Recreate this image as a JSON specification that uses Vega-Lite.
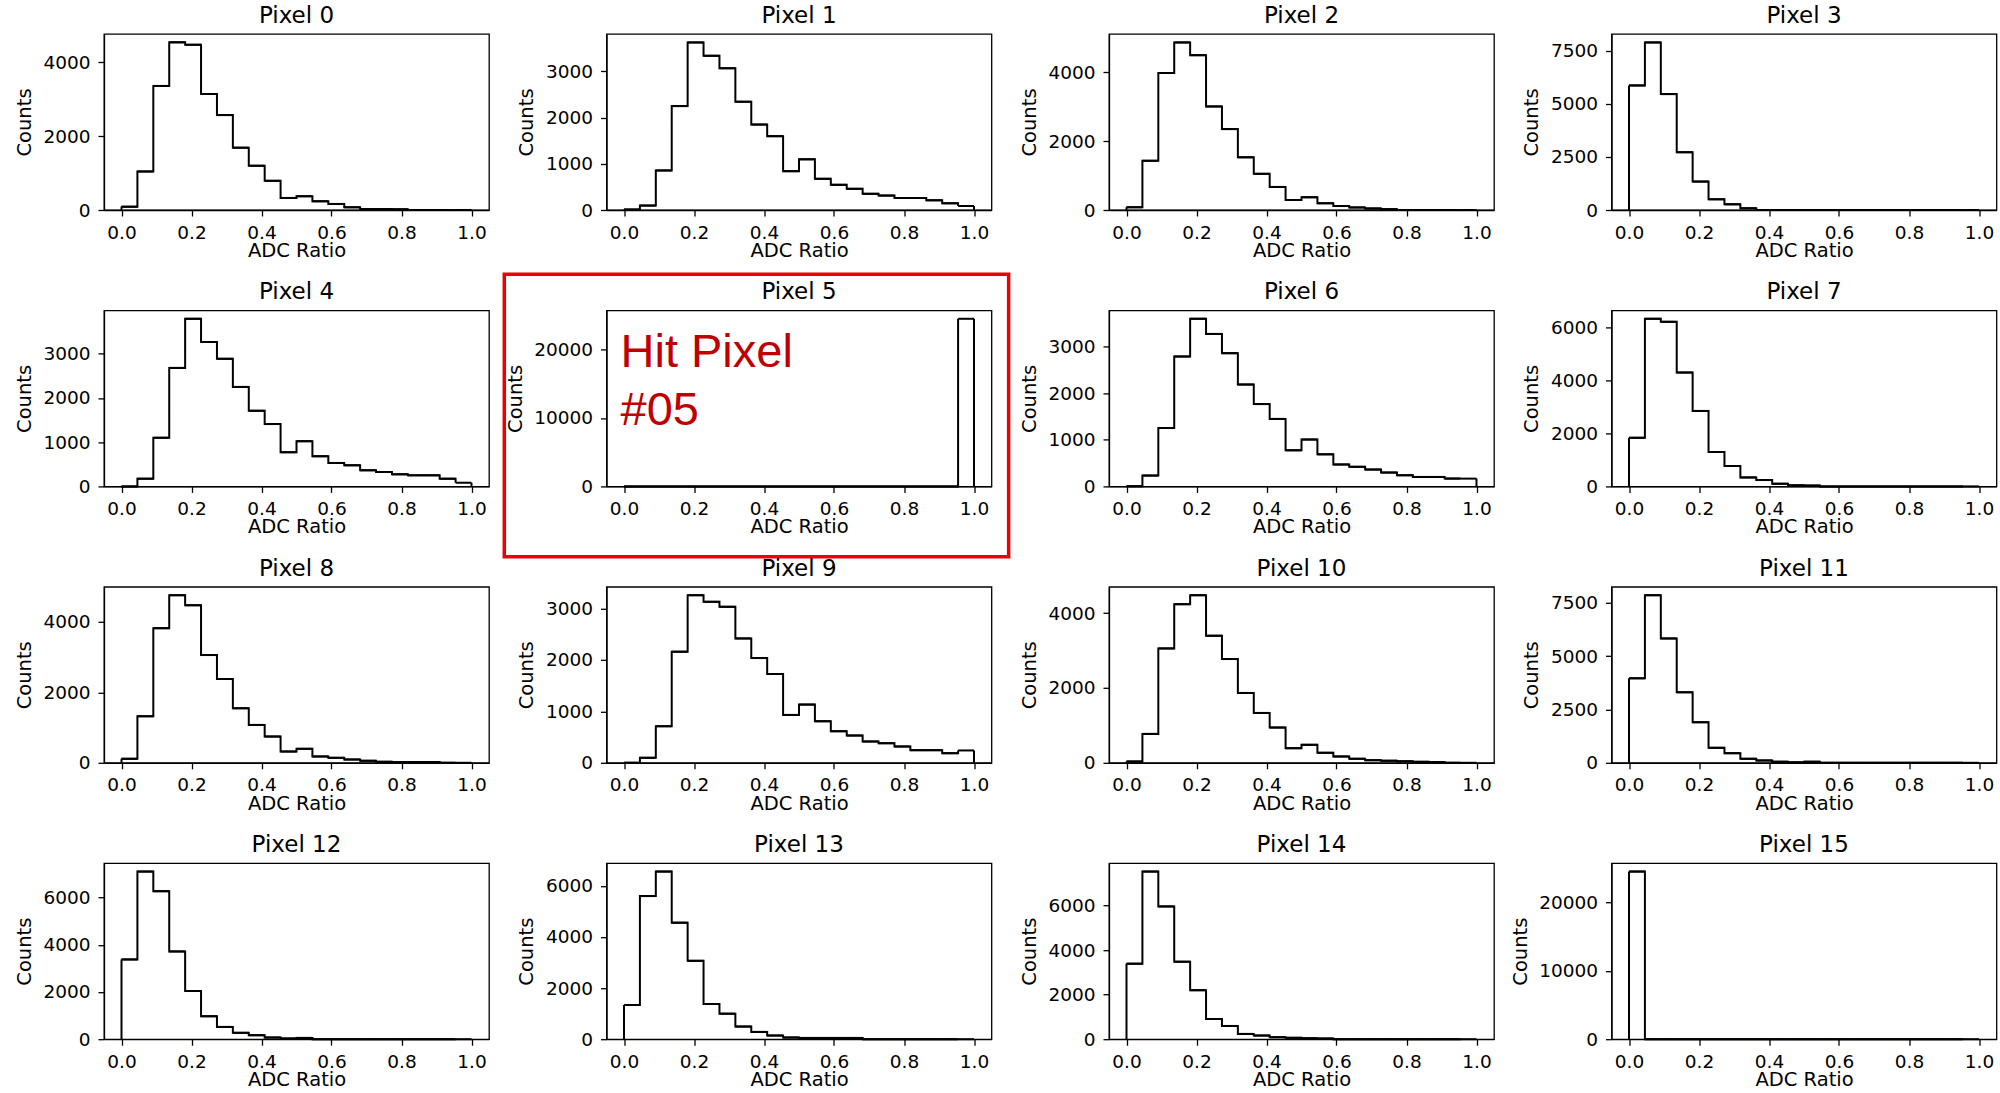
{
"$schema": "https://vega.github.io/schema/vega-lite/v6.json",
"background": "white",
"padding": {"left": 13, "top": 4, "right": 4, "bottom": 2},
"data": {"values": [
{"pixel":0,"x0":0,"x1":0.04545,"count":90},{"pixel":0,"x0":0.04545,"x1":0.09091,"count":1045},{"pixel":0,"x0":0.09091,"x1":0.13636,"count":3364},{"pixel":0,"x0":0.13636,"x1":0.18182,"count":4545},{"pixel":0,"x0":0.18182,"x1":0.22727,"count":4480},{"pixel":0,"x0":0.22727,"x1":0.27273,"count":3145},{"pixel":0,"x0":0.27273,"x1":0.31818,"count":2573},{"pixel":0,"x0":0.31818,"x1":0.36364,"count":1690},{"pixel":0,"x0":0.36364,"x1":0.40909,"count":1200},{"pixel":0,"x0":0.40909,"x1":0.45455,"count":790},{"pixel":0,"x0":0.45455,"x1":0.5,"count":327},{"pixel":0,"x0":0.5,"x1":0.54545,"count":373},{"pixel":0,"x0":0.54545,"x1":0.59091,"count":236},{"pixel":0,"x0":0.59091,"x1":0.63636,"count":164},{"pixel":0,"x0":0.63636,"x1":0.68182,"count":73},{"pixel":0,"x0":0.68182,"x1":0.72727,"count":27},{"pixel":0,"x0":0.72727,"x1":0.77273,"count":25},{"pixel":0,"x0":0.77273,"x1":0.81818,"count":18},{"pixel":0,"x0":0.81818,"x1":0.86364,"count":0},{"pixel":0,"x0":0.86364,"x1":0.90909,"count":0},{"pixel":0,"x0":0.90909,"x1":0.95455,"count":0},{"pixel":0,"x0":0.95455,"x1":1,"count":0},
{"pixel":1,"x0":0,"x1":0.04545,"count":10},{"pixel":1,"x0":0.04545,"x1":0.09091,"count":95},{"pixel":1,"x0":0.09091,"x1":0.13636,"count":857},{"pixel":1,"x0":0.13636,"x1":0.18182,"count":2250},{"pixel":1,"x0":0.18182,"x1":0.22727,"count":3630},{"pixel":1,"x0":0.22727,"x1":0.27273,"count":3340},{"pixel":1,"x0":0.27273,"x1":0.31818,"count":3070},{"pixel":1,"x0":0.31818,"x1":0.36364,"count":2345},{"pixel":1,"x0":0.36364,"x1":0.40909,"count":1850},{"pixel":1,"x0":0.40909,"x1":0.45455,"count":1600},{"pixel":1,"x0":0.45455,"x1":0.5,"count":842},{"pixel":1,"x0":0.5,"x1":0.54545,"count":1097},{"pixel":1,"x0":0.54545,"x1":0.59091,"count":675},{"pixel":1,"x0":0.59091,"x1":0.63636,"count":545},{"pixel":1,"x0":0.63636,"x1":0.68182,"count":458},{"pixel":1,"x0":0.68182,"x1":0.72727,"count":350},{"pixel":1,"x0":0.72727,"x1":0.77273,"count":312},{"pixel":1,"x0":0.77273,"x1":0.81818,"count":260},{"pixel":1,"x0":0.81818,"x1":0.86364,"count":260},{"pixel":1,"x0":0.86364,"x1":0.90909,"count":210},{"pixel":1,"x0":0.90909,"x1":0.95455,"count":145},{"pixel":1,"x0":0.95455,"x1":1,"count":87},
{"pixel":2,"x0":0,"x1":0.04545,"count":80},{"pixel":2,"x0":0.04545,"x1":0.09091,"count":1430},{"pixel":2,"x0":0.09091,"x1":0.13636,"count":3980},{"pixel":2,"x0":0.13636,"x1":0.18182,"count":4870},{"pixel":2,"x0":0.18182,"x1":0.22727,"count":4500},{"pixel":2,"x0":0.22727,"x1":0.27273,"count":3010},{"pixel":2,"x0":0.27273,"x1":0.31818,"count":2350},{"pixel":2,"x0":0.31818,"x1":0.36364,"count":1530},{"pixel":2,"x0":0.36364,"x1":0.40909,"count":1050},{"pixel":2,"x0":0.40909,"x1":0.45455,"count":670},{"pixel":2,"x0":0.45455,"x1":0.5,"count":290},{"pixel":2,"x0":0.5,"x1":0.54545,"count":370},{"pixel":2,"x0":0.54545,"x1":0.59091,"count":195},{"pixel":2,"x0":0.59091,"x1":0.63636,"count":115},{"pixel":2,"x0":0.63636,"x1":0.68182,"count":75},{"pixel":2,"x0":0.68182,"x1":0.72727,"count":45},{"pixel":2,"x0":0.72727,"x1":0.77273,"count":25},{"pixel":2,"x0":0.77273,"x1":0.81818,"count":0},{"pixel":2,"x0":0.81818,"x1":0.86364,"count":0},{"pixel":2,"x0":0.86364,"x1":0.90909,"count":0},{"pixel":2,"x0":0.90909,"x1":0.95455,"count":0},{"pixel":2,"x0":0.95455,"x1":1,"count":0},
{"pixel":3,"x0":0,"x1":0.04545,"count":5865},{"pixel":3,"x0":0.04545,"x1":0.09091,"count":7890},{"pixel":3,"x0":0.09091,"x1":0.13636,"count":5455},{"pixel":3,"x0":0.13636,"x1":0.18182,"count":2720},{"pixel":3,"x0":0.18182,"x1":0.22727,"count":1336},{"pixel":3,"x0":0.22727,"x1":0.27273,"count":503},{"pixel":3,"x0":0.27273,"x1":0.31818,"count":267},{"pixel":3,"x0":0.31818,"x1":0.36364,"count":80},{"pixel":3,"x0":0.36364,"x1":0.40909,"count":0},{"pixel":3,"x0":0.40909,"x1":0.45455,"count":0},{"pixel":3,"x0":0.45455,"x1":0.5,"count":0},{"pixel":3,"x0":0.5,"x1":0.54545,"count":0},{"pixel":3,"x0":0.54545,"x1":0.59091,"count":0},{"pixel":3,"x0":0.59091,"x1":0.63636,"count":0},{"pixel":3,"x0":0.63636,"x1":0.68182,"count":0},{"pixel":3,"x0":0.68182,"x1":0.72727,"count":0},{"pixel":3,"x0":0.72727,"x1":0.77273,"count":0},{"pixel":3,"x0":0.77273,"x1":0.81818,"count":0},{"pixel":3,"x0":0.81818,"x1":0.86364,"count":0},{"pixel":3,"x0":0.86364,"x1":0.90909,"count":0},{"pixel":3,"x0":0.90909,"x1":0.95455,"count":0},{"pixel":3,"x0":0.95455,"x1":1,"count":0},
{"pixel":4,"x0":0,"x1":0.04545,"count":0},{"pixel":4,"x0":0.04545,"x1":0.09091,"count":175},{"pixel":4,"x0":0.09091,"x1":0.13636,"count":1100},{"pixel":4,"x0":0.13636,"x1":0.18182,"count":2680},{"pixel":4,"x0":0.18182,"x1":0.22727,"count":3790},{"pixel":4,"x0":0.22727,"x1":0.27273,"count":3265},{"pixel":4,"x0":0.27273,"x1":0.31818,"count":2885},{"pixel":4,"x0":0.31818,"x1":0.36364,"count":2250},{"pixel":4,"x0":0.36364,"x1":0.40909,"count":1710},{"pixel":4,"x0":0.40909,"x1":0.45455,"count":1410},{"pixel":4,"x0":0.45455,"x1":0.5,"count":773},{"pixel":4,"x0":0.5,"x1":0.54545,"count":1023},{"pixel":4,"x0":0.54545,"x1":0.59091,"count":682},{"pixel":4,"x0":0.59091,"x1":0.63636,"count":530},{"pixel":4,"x0":0.63636,"x1":0.68182,"count":477},{"pixel":4,"x0":0.68182,"x1":0.72727,"count":364},{"pixel":4,"x0":0.72727,"x1":0.77273,"count":326},{"pixel":4,"x0":0.77273,"x1":0.81818,"count":273},{"pixel":4,"x0":0.81818,"x1":0.86364,"count":250},{"pixel":4,"x0":0.86364,"x1":0.90909,"count":250},{"pixel":4,"x0":0.90909,"x1":0.95455,"count":174},{"pixel":4,"x0":0.95455,"x1":1,"count":83},
{"pixel":5,"x0":0,"x1":0.04545,"count":0},{"pixel":5,"x0":0.04545,"x1":0.09091,"count":0},{"pixel":5,"x0":0.09091,"x1":0.13636,"count":0},{"pixel":5,"x0":0.13636,"x1":0.18182,"count":0},{"pixel":5,"x0":0.18182,"x1":0.22727,"count":0},{"pixel":5,"x0":0.22727,"x1":0.27273,"count":0},{"pixel":5,"x0":0.27273,"x1":0.31818,"count":0},{"pixel":5,"x0":0.31818,"x1":0.36364,"count":0},{"pixel":5,"x0":0.36364,"x1":0.40909,"count":0},{"pixel":5,"x0":0.40909,"x1":0.45455,"count":0},{"pixel":5,"x0":0.45455,"x1":0.5,"count":0},{"pixel":5,"x0":0.5,"x1":0.54545,"count":0},{"pixel":5,"x0":0.54545,"x1":0.59091,"count":0},{"pixel":5,"x0":0.59091,"x1":0.63636,"count":0},{"pixel":5,"x0":0.63636,"x1":0.68182,"count":0},{"pixel":5,"x0":0.68182,"x1":0.72727,"count":0},{"pixel":5,"x0":0.72727,"x1":0.77273,"count":0},{"pixel":5,"x0":0.77273,"x1":0.81818,"count":0},{"pixel":5,"x0":0.81818,"x1":0.86364,"count":0},{"pixel":5,"x0":0.86364,"x1":0.90909,"count":0},{"pixel":5,"x0":0.90909,"x1":0.95455,"count":0},{"pixel":5,"x0":0.95455,"x1":1,"count":24500},
{"pixel":6,"x0":0,"x1":0.04545,"count":5},{"pixel":6,"x0":0.04545,"x1":0.09091,"count":232},{"pixel":6,"x0":0.09091,"x1":0.13636,"count":1254},{"pixel":6,"x0":0.13636,"x1":0.18182,"count":2790},{"pixel":6,"x0":0.18182,"x1":0.22727,"count":3600},{"pixel":6,"x0":0.22727,"x1":0.27273,"count":3275},{"pixel":6,"x0":0.27273,"x1":0.31818,"count":2862},{"pixel":6,"x0":0.31818,"x1":0.36364,"count":2188},{"pixel":6,"x0":0.36364,"x1":0.40909,"count":1768},{"pixel":6,"x0":0.40909,"x1":0.45455,"count":1450},{"pixel":6,"x0":0.45455,"x1":0.5,"count":775},{"pixel":6,"x0":0.5,"x1":0.54545,"count":1007},{"pixel":6,"x0":0.54545,"x1":0.59091,"count":688},{"pixel":6,"x0":0.59091,"x1":0.63636,"count":471},{"pixel":6,"x0":0.63636,"x1":0.68182,"count":420},{"pixel":6,"x0":0.68182,"x1":0.72727,"count":362},{"pixel":6,"x0":0.72727,"x1":0.77273,"count":297},{"pixel":6,"x0":0.77273,"x1":0.81818,"count":239},{"pixel":6,"x0":0.81818,"x1":0.86364,"count":203},{"pixel":6,"x0":0.86364,"x1":0.90909,"count":203},{"pixel":6,"x0":0.90909,"x1":0.95455,"count":167},{"pixel":6,"x0":0.95455,"x1":1,"count":167},
{"pixel":7,"x0":0,"x1":0.04545,"count":1835},{"pixel":7,"x0":0.04545,"x1":0.09091,"count":6330},{"pixel":7,"x0":0.09091,"x1":0.13636,"count":6215},{"pixel":7,"x0":0.13636,"x1":0.18182,"count":4300},{"pixel":7,"x0":0.18182,"x1":0.22727,"count":2850},{"pixel":7,"x0":0.22727,"x1":0.27273,"count":1300},{"pixel":7,"x0":0.27273,"x1":0.31818,"count":770},{"pixel":7,"x0":0.31818,"x1":0.36364,"count":340},{"pixel":7,"x0":0.36364,"x1":0.40909,"count":240},{"pixel":7,"x0":0.40909,"x1":0.45455,"count":100},{"pixel":7,"x0":0.45455,"x1":0.5,"count":40},{"pixel":7,"x0":0.5,"x1":0.54545,"count":30},{"pixel":7,"x0":0.54545,"x1":0.59091,"count":0},{"pixel":7,"x0":0.59091,"x1":0.63636,"count":0},{"pixel":7,"x0":0.63636,"x1":0.68182,"count":0},{"pixel":7,"x0":0.68182,"x1":0.72727,"count":0},{"pixel":7,"x0":0.72727,"x1":0.77273,"count":0},{"pixel":7,"x0":0.77273,"x1":0.81818,"count":0},{"pixel":7,"x0":0.81818,"x1":0.86364,"count":0},{"pixel":7,"x0":0.86364,"x1":0.90909,"count":0},{"pixel":7,"x0":0.90909,"x1":0.95455,"count":0},{"pixel":7,"x0":0.95455,"x1":1,"count":0},
{"pixel":8,"x0":0,"x1":0.04545,"count":113},{"pixel":8,"x0":0.04545,"x1":0.09091,"count":1320},{"pixel":8,"x0":0.09091,"x1":0.13636,"count":3820},{"pixel":8,"x0":0.13636,"x1":0.18182,"count":4755},{"pixel":8,"x0":0.18182,"x1":0.22727,"count":4470},{"pixel":8,"x0":0.22727,"x1":0.27273,"count":3057},{"pixel":8,"x0":0.27273,"x1":0.31818,"count":2377},{"pixel":8,"x0":0.31818,"x1":0.36364,"count":1547},{"pixel":8,"x0":0.36364,"x1":0.40909,"count":1075},{"pixel":8,"x0":0.40909,"x1":0.45455,"count":745},{"pixel":8,"x0":0.45455,"x1":0.5,"count":320},{"pixel":8,"x0":0.5,"x1":0.54545,"count":396},{"pixel":8,"x0":0.54545,"x1":0.59091,"count":180},{"pixel":8,"x0":0.59091,"x1":0.63636,"count":140},{"pixel":8,"x0":0.63636,"x1":0.68182,"count":94},{"pixel":8,"x0":0.68182,"x1":0.72727,"count":57},{"pixel":8,"x0":0.72727,"x1":0.77273,"count":28},{"pixel":8,"x0":0.77273,"x1":0.81818,"count":20},{"pixel":8,"x0":0.81818,"x1":0.86364,"count":20},{"pixel":8,"x0":0.86364,"x1":0.90909,"count":20},{"pixel":8,"x0":0.90909,"x1":0.95455,"count":0},{"pixel":8,"x0":0.95455,"x1":1,"count":0},
{"pixel":9,"x0":0,"x1":0.04545,"count":0},{"pixel":9,"x0":0.04545,"x1":0.09091,"count":97},{"pixel":9,"x0":0.09091,"x1":0.13636,"count":711},{"pixel":9,"x0":0.13636,"x1":0.18182,"count":2160},{"pixel":9,"x0":0.18182,"x1":0.22727,"count":3258},{"pixel":9,"x0":0.22727,"x1":0.27273,"count":3129},{"pixel":9,"x0":0.27273,"x1":0.31818,"count":3032},{"pixel":9,"x0":0.31818,"x1":0.36364,"count":2418},{"pixel":9,"x0":0.36364,"x1":0.40909,"count":2036},{"pixel":9,"x0":0.40909,"x1":0.45455,"count":1726},{"pixel":9,"x0":0.45455,"x1":0.5,"count":931},{"pixel":9,"x0":0.5,"x1":0.54545,"count":1131},{"pixel":9,"x0":0.54545,"x1":0.59091,"count":808},{"pixel":9,"x0":0.59091,"x1":0.63636,"count":614},{"pixel":9,"x0":0.63636,"x1":0.68182,"count":530},{"pixel":9,"x0":0.68182,"x1":0.72727,"count":414},{"pixel":9,"x0":0.72727,"x1":0.77273,"count":381},{"pixel":9,"x0":0.77273,"x1":0.81818,"count":317},{"pixel":9,"x0":0.81818,"x1":0.86364,"count":246},{"pixel":9,"x0":0.86364,"x1":0.90909,"count":246},{"pixel":9,"x0":0.90909,"x1":0.95455,"count":187},{"pixel":9,"x0":0.95455,"x1":1,"count":240},
{"pixel":10,"x0":0,"x1":0.04545,"count":35},{"pixel":10,"x0":0.04545,"x1":0.09091,"count":773},{"pixel":10,"x0":0.09091,"x1":0.13636,"count":3058},{"pixel":10,"x0":0.13636,"x1":0.18182,"count":4240},{"pixel":10,"x0":0.18182,"x1":0.22727,"count":4480},{"pixel":10,"x0":0.22727,"x1":0.27273,"count":3396},{"pixel":10,"x0":0.27273,"x1":0.31818,"count":2773},{"pixel":10,"x0":0.31818,"x1":0.36364,"count":1867},{"pixel":10,"x0":0.36364,"x1":0.40909,"count":1333},{"pixel":10,"x0":0.40909,"x1":0.45455,"count":942},{"pixel":10,"x0":0.45455,"x1":0.5,"count":391},{"pixel":10,"x0":0.5,"x1":0.54545,"count":480},{"pixel":10,"x0":0.54545,"x1":0.59091,"count":267},{"pixel":10,"x0":0.59091,"x1":0.63636,"count":169},{"pixel":10,"x0":0.63636,"x1":0.68182,"count":107},{"pixel":10,"x0":0.68182,"x1":0.72727,"count":70},{"pixel":10,"x0":0.72727,"x1":0.77273,"count":55},{"pixel":10,"x0":0.77273,"x1":0.81818,"count":40},{"pixel":10,"x0":0.81818,"x1":0.86364,"count":25},{"pixel":10,"x0":0.86364,"x1":0.90909,"count":20},{"pixel":10,"x0":0.90909,"x1":0.95455,"count":0},{"pixel":10,"x0":0.95455,"x1":1,"count":0},
{"pixel":11,"x0":0,"x1":0.04545,"count":3956},{"pixel":11,"x0":0.04545,"x1":0.09091,"count":7850},{"pixel":11,"x0":0.09091,"x1":0.13636,"count":5825},{"pixel":11,"x0":0.13636,"x1":0.18182,"count":3302},{"pixel":11,"x0":0.18182,"x1":0.22727,"count":1900},{"pixel":11,"x0":0.22727,"x1":0.27273,"count":700},{"pixel":11,"x0":0.27273,"x1":0.31818,"count":452},{"pixel":11,"x0":0.31818,"x1":0.36364,"count":187},{"pixel":11,"x0":0.36364,"x1":0.40909,"count":110},{"pixel":11,"x0":0.40909,"x1":0.45455,"count":50},{"pixel":11,"x0":0.45455,"x1":0.5,"count":20},{"pixel":11,"x0":0.5,"x1":0.54545,"count":50},{"pixel":11,"x0":0.54545,"x1":0.59091,"count":0},{"pixel":11,"x0":0.59091,"x1":0.63636,"count":0},{"pixel":11,"x0":0.63636,"x1":0.68182,"count":0},{"pixel":11,"x0":0.68182,"x1":0.72727,"count":0},{"pixel":11,"x0":0.72727,"x1":0.77273,"count":0},{"pixel":11,"x0":0.77273,"x1":0.81818,"count":0},{"pixel":11,"x0":0.81818,"x1":0.86364,"count":0},{"pixel":11,"x0":0.86364,"x1":0.90909,"count":0},{"pixel":11,"x0":0.90909,"x1":0.95455,"count":0},{"pixel":11,"x0":0.95455,"x1":1,"count":0},
{"pixel":12,"x0":0,"x1":0.04545,"count":3380},{"pixel":12,"x0":0.04545,"x1":0.09091,"count":7100},{"pixel":12,"x0":0.09091,"x1":0.13636,"count":6270},{"pixel":12,"x0":0.13636,"x1":0.18182,"count":3718},{"pixel":12,"x0":0.18182,"x1":0.22727,"count":2042},{"pixel":12,"x0":0.22727,"x1":0.27273,"count":972},{"pixel":12,"x0":0.27273,"x1":0.31818,"count":521},{"pixel":12,"x0":0.31818,"x1":0.36364,"count":268},{"pixel":12,"x0":0.36364,"x1":0.40909,"count":169},{"pixel":12,"x0":0.40909,"x1":0.45455,"count":70},{"pixel":12,"x0":0.45455,"x1":0.5,"count":30},{"pixel":12,"x0":0.5,"x1":0.54545,"count":56},{"pixel":12,"x0":0.54545,"x1":0.59091,"count":0},{"pixel":12,"x0":0.59091,"x1":0.63636,"count":0},{"pixel":12,"x0":0.63636,"x1":0.68182,"count":0},{"pixel":12,"x0":0.68182,"x1":0.72727,"count":0},{"pixel":12,"x0":0.72727,"x1":0.77273,"count":0},{"pixel":12,"x0":0.77273,"x1":0.81818,"count":0},{"pixel":12,"x0":0.81818,"x1":0.86364,"count":0},{"pixel":12,"x0":0.86364,"x1":0.90909,"count":0},{"pixel":12,"x0":0.90909,"x1":0.95455,"count":0},{"pixel":12,"x0":0.95455,"x1":1,"count":0},
{"pixel":13,"x0":0,"x1":0.04545,"count":1338},{"pixel":13,"x0":0.04545,"x1":0.09091,"count":5600},{"pixel":13,"x0":0.09091,"x1":0.13636,"count":6558},{"pixel":13,"x0":0.13636,"x1":0.18182,"count":4560},{"pixel":13,"x0":0.18182,"x1":0.22727,"count":3065},{"pixel":13,"x0":0.22727,"x1":0.27273,"count":1377},{"pixel":13,"x0":0.27273,"x1":0.31818,"count":1000},{"pixel":13,"x0":0.31818,"x1":0.36364,"count":494},{"pixel":13,"x0":0.36364,"x1":0.40909,"count":286},{"pixel":13,"x0":0.40909,"x1":0.45455,"count":143},{"pixel":13,"x0":0.45455,"x1":0.5,"count":65},{"pixel":13,"x0":0.5,"x1":0.54545,"count":50},{"pixel":13,"x0":0.54545,"x1":0.59091,"count":50},{"pixel":13,"x0":0.59091,"x1":0.63636,"count":50},{"pixel":13,"x0":0.63636,"x1":0.68182,"count":50},{"pixel":13,"x0":0.68182,"x1":0.72727,"count":0},{"pixel":13,"x0":0.72727,"x1":0.77273,"count":0},{"pixel":13,"x0":0.77273,"x1":0.81818,"count":0},{"pixel":13,"x0":0.81818,"x1":0.86364,"count":0},{"pixel":13,"x0":0.86364,"x1":0.90909,"count":0},{"pixel":13,"x0":0.90909,"x1":0.95455,"count":0},{"pixel":13,"x0":0.95455,"x1":1,"count":0},
{"pixel":14,"x0":0,"x1":0.04545,"count":3393},{"pixel":14,"x0":0.04545,"x1":0.09091,"count":7530},{"pixel":14,"x0":0.09091,"x1":0.13636,"count":5967},{"pixel":14,"x0":0.13636,"x1":0.18182,"count":3482},{"pixel":14,"x0":0.18182,"x1":0.22727,"count":2202},{"pixel":14,"x0":0.22727,"x1":0.27273,"count":908},{"pixel":14,"x0":0.27273,"x1":0.31818,"count":595},{"pixel":14,"x0":0.31818,"x1":0.36364,"count":238},{"pixel":14,"x0":0.36364,"x1":0.40909,"count":164},{"pixel":14,"x0":0.40909,"x1":0.45455,"count":90},{"pixel":14,"x0":0.45455,"x1":0.5,"count":60},{"pixel":14,"x0":0.5,"x1":0.54545,"count":45},{"pixel":14,"x0":0.54545,"x1":0.59091,"count":30},{"pixel":14,"x0":0.59091,"x1":0.63636,"count":0},{"pixel":14,"x0":0.63636,"x1":0.68182,"count":0},{"pixel":14,"x0":0.68182,"x1":0.72727,"count":0},{"pixel":14,"x0":0.72727,"x1":0.77273,"count":0},{"pixel":14,"x0":0.77273,"x1":0.81818,"count":0},{"pixel":14,"x0":0.81818,"x1":0.86364,"count":0},{"pixel":14,"x0":0.86364,"x1":0.90909,"count":0},{"pixel":14,"x0":0.90909,"x1":0.95455,"count":0},{"pixel":14,"x0":0.95455,"x1":1,"count":0},
{"pixel":15,"x0":0,"x1":0.04545,"count":24500},{"pixel":15,"x0":0.04545,"x1":0.09091,"count":0},{"pixel":15,"x0":0.09091,"x1":0.13636,"count":0},{"pixel":15,"x0":0.13636,"x1":0.18182,"count":0},{"pixel":15,"x0":0.18182,"x1":0.22727,"count":0},{"pixel":15,"x0":0.22727,"x1":0.27273,"count":0},{"pixel":15,"x0":0.27273,"x1":0.31818,"count":0},{"pixel":15,"x0":0.31818,"x1":0.36364,"count":0},{"pixel":15,"x0":0.36364,"x1":0.40909,"count":0},{"pixel":15,"x0":0.40909,"x1":0.45455,"count":0},{"pixel":15,"x0":0.45455,"x1":0.5,"count":0},{"pixel":15,"x0":0.5,"x1":0.54545,"count":0},{"pixel":15,"x0":0.54545,"x1":0.59091,"count":0},{"pixel":15,"x0":0.59091,"x1":0.63636,"count":0},{"pixel":15,"x0":0.63636,"x1":0.68182,"count":0},{"pixel":15,"x0":0.68182,"x1":0.72727,"count":0},{"pixel":15,"x0":0.72727,"x1":0.77273,"count":0},{"pixel":15,"x0":0.77273,"x1":0.81818,"count":0},{"pixel":15,"x0":0.81818,"x1":0.86364,"count":0},{"pixel":15,"x0":0.86364,"x1":0.90909,"count":0},{"pixel":15,"x0":0.90909,"x1":0.95455,"count":0},{"pixel":15,"x0":0.95455,"x1":1,"count":0}
]},
"bounds": "flush",
"spacing": 276.4,
"vconcat": [
{"bounds": "flush", "spacing": 117.5, "hconcat": [
{"title": "Pixel 0", "width": 385, "height": 176, "transform": [{"filter": "datum.pixel == 0"}],
 "encoding": {"x": {"field": "x0", "type": "quantitative", "title": "ADC Ratio", "scale": {"domain": [-0.05, 1.05], "nice": false, "zero": false}, "axis": {"values": [0, 0.2, 0.4, 0.6, 0.8, 1], "format": ".1f"}},
  "y": {"field": "count", "type": "quantitative", "title": "Counts", "scale": {"domain": [0, 4772], "nice": false, "zero": false}, "axis": {"values": [0, 2000, 4000], "format": "d"}}},
 "layer": [
  {"mark": {"type": "line", "interpolate": "step-after"}, "encoding": {}},
  {"mark": "rule", "encoding": {"x2": {"field": "x1"}}},
  {"transform": [{"filter": "datum.x0 == 0"}], "mark": "rule", "encoding": {"y2": {"datum": 0}}},
  {"transform": [{"filter": "datum.x1 == 1"}], "mark": "rule", "encoding": {"x": {"field": "x1", "type": "quantitative", "title": "ADC Ratio", "scale": {"domain": [-0.05, 1.05], "nice": false, "zero": false}}, "y2": {"datum": 0}}}
 ]},
{"title": "Pixel 1", "width": 385, "height": 176, "transform": [{"filter": "datum.pixel == 1"}],
 "encoding": {"x": {"field": "x0", "type": "quantitative", "title": "ADC Ratio", "scale": {"domain": [-0.05, 1.05], "nice": false, "zero": false}, "axis": {"values": [0, 0.2, 0.4, 0.6, 0.8, 1], "format": ".1f"}},
  "y": {"field": "count", "type": "quantitative", "title": "Counts", "scale": {"domain": [0, 3812], "nice": false, "zero": false}, "axis": {"values": [0, 1000, 2000, 3000], "format": "d"}}},
 "layer": [
  {"mark": {"type": "line", "interpolate": "step-after"}, "encoding": {}},
  {"mark": "rule", "encoding": {"x2": {"field": "x1"}}},
  {"transform": [{"filter": "datum.x0 == 0"}], "mark": "rule", "encoding": {"y2": {"datum": 0}}},
  {"transform": [{"filter": "datum.x1 == 1"}], "mark": "rule", "encoding": {"x": {"field": "x1", "type": "quantitative", "title": "ADC Ratio", "scale": {"domain": [-0.05, 1.05], "nice": false, "zero": false}}, "y2": {"datum": 0}}}
 ]},
{"title": "Pixel 2", "width": 385, "height": 176, "transform": [{"filter": "datum.pixel == 2"}],
 "encoding": {"x": {"field": "x0", "type": "quantitative", "title": "ADC Ratio", "scale": {"domain": [-0.05, 1.05], "nice": false, "zero": false}, "axis": {"values": [0, 0.2, 0.4, 0.6, 0.8, 1], "format": ".1f"}},
  "y": {"field": "count", "type": "quantitative", "title": "Counts", "scale": {"domain": [0, 5114], "nice": false, "zero": false}, "axis": {"values": [0, 2000, 4000], "format": "d"}}},
 "layer": [
  {"mark": {"type": "line", "interpolate": "step-after"}, "encoding": {}},
  {"mark": "rule", "encoding": {"x2": {"field": "x1"}}},
  {"transform": [{"filter": "datum.x0 == 0"}], "mark": "rule", "encoding": {"y2": {"datum": 0}}},
  {"transform": [{"filter": "datum.x1 == 1"}], "mark": "rule", "encoding": {"x": {"field": "x1", "type": "quantitative", "title": "ADC Ratio", "scale": {"domain": [-0.05, 1.05], "nice": false, "zero": false}}, "y2": {"datum": 0}}}
 ]},
{"title": "Pixel 3", "width": 385, "height": 176, "transform": [{"filter": "datum.pixel == 3"}],
 "encoding": {"x": {"field": "x0", "type": "quantitative", "title": "ADC Ratio", "scale": {"domain": [-0.05, 1.05], "nice": false, "zero": false}, "axis": {"values": [0, 0.2, 0.4, 0.6, 0.8, 1], "format": ".1f"}},
  "y": {"field": "count", "type": "quantitative", "title": "Counts", "scale": {"domain": [0, 8285], "nice": false, "zero": false}, "axis": {"values": [0, 2500, 5000, 7500], "format": "d"}}},
 "layer": [
  {"mark": {"type": "line", "interpolate": "step-after"}, "encoding": {}},
  {"mark": "rule", "encoding": {"x2": {"field": "x1"}}},
  {"transform": [{"filter": "datum.x0 == 0"}], "mark": "rule", "encoding": {"y2": {"datum": 0}}},
  {"transform": [{"filter": "datum.x1 == 1"}], "mark": "rule", "encoding": {"x": {"field": "x1", "type": "quantitative", "title": "ADC Ratio", "scale": {"domain": [-0.05, 1.05], "nice": false, "zero": false}}, "y2": {"datum": 0}}}
 ]}
]},
{"bounds": "flush", "spacing": 117.5, "hconcat": [
{"title": "Pixel 4", "width": 385, "height": 176, "transform": [{"filter": "datum.pixel == 4"}],
 "encoding": {"x": {"field": "x0", "type": "quantitative", "title": "ADC Ratio", "scale": {"domain": [-0.05, 1.05], "nice": false, "zero": false}, "axis": {"values": [0, 0.2, 0.4, 0.6, 0.8, 1], "format": ".1f"}},
  "y": {"field": "count", "type": "quantitative", "title": "Counts", "scale": {"domain": [0, 3980], "nice": false, "zero": false}, "axis": {"values": [0, 1000, 2000, 3000], "format": "d"}}},
 "layer": [
  {"mark": {"type": "line", "interpolate": "step-after"}, "encoding": {}},
  {"mark": "rule", "encoding": {"x2": {"field": "x1"}}},
  {"transform": [{"filter": "datum.x0 == 0"}], "mark": "rule", "encoding": {"y2": {"datum": 0}}},
  {"transform": [{"filter": "datum.x1 == 1"}], "mark": "rule", "encoding": {"x": {"field": "x1", "type": "quantitative", "title": "ADC Ratio", "scale": {"domain": [-0.05, 1.05], "nice": false, "zero": false}}, "y2": {"datum": 0}}}
 ]},
{"title": {"text": "Pixel 5", "offset": -31.5}, "width": 385, "height": 176, "transform": [{"filter": "datum.pixel == 5"}],
 "encoding": {"x": {"field": "x0", "type": "quantitative", "title": "ADC Ratio", "scale": {"domain": [-0.05, 1.05], "nice": false, "zero": false}, "axis": {"values": [0, 0.2, 0.4, 0.6, 0.8, 1], "format": ".1f"}},
  "y": {"field": "count", "type": "quantitative", "title": "Counts", "scale": {"domain": [0, 25725], "nice": false, "zero": false}, "axis": {"values": [0, 10000, 20000], "format": "d"}}},
 "layer": [
  {"mark": {"type": "line", "interpolate": "step-after"}, "encoding": {}},
  {"mark": "rule", "encoding": {"x2": {"field": "x1"}}},
  {"transform": [{"filter": "datum.x0 == 0"}], "mark": "rule", "encoding": {"y2": {"datum": 0}}},
  {"transform": [{"filter": "datum.x1 == 1"}], "mark": "rule", "encoding": {"x": {"field": "x1", "type": "quantitative", "title": "ADC Ratio", "scale": {"domain": [-0.05, 1.05], "nice": false, "zero": false}}, "y2": {"datum": 0}}},
  {"transform": [{"filter": "datum.x0 == 0"}], "mark": {"type": "text", "align": "left", "baseline": "alphabetic", "font": "Liberation Sans", "fontSize": 47, "lineHeight": 58, "color": "#c00000"}, "encoding": {"x": {"datum": -0.01}, "y": {"datum": 17400}, "text": {"value": ["Hit Pixel", "#05"]}}},
  {"transform": [{"filter": "datum.x0 == 0"}], "mark": {"type": "rect", "fill": "transparent", "stroke": "#ee0000", "strokeWidth": 3.5, "clip": false}, "encoding": {"x": {"datum": -0.342}, "x2": {"datum": 1.099}, "y": {"datum": 31000}, "y2": {"datum": -10300}}}
 ]},
{"title": "Pixel 6", "width": 385, "height": 176, "transform": [{"filter": "datum.pixel == 6"}],
 "encoding": {"x": {"field": "x0", "type": "quantitative", "title": "ADC Ratio", "scale": {"domain": [-0.05, 1.05], "nice": false, "zero": false}, "axis": {"values": [0, 0.2, 0.4, 0.6, 0.8, 1], "format": ".1f"}},
  "y": {"field": "count", "type": "quantitative", "title": "Counts", "scale": {"domain": [0, 3780], "nice": false, "zero": false}, "axis": {"values": [0, 1000, 2000, 3000], "format": "d"}}},
 "layer": [
  {"mark": {"type": "line", "interpolate": "step-after"}, "encoding": {}},
  {"mark": "rule", "encoding": {"x2": {"field": "x1"}}},
  {"transform": [{"filter": "datum.x0 == 0"}], "mark": "rule", "encoding": {"y2": {"datum": 0}}},
  {"transform": [{"filter": "datum.x1 == 1"}], "mark": "rule", "encoding": {"x": {"field": "x1", "type": "quantitative", "title": "ADC Ratio", "scale": {"domain": [-0.05, 1.05], "nice": false, "zero": false}}, "y2": {"datum": 0}}}
 ]},
{"title": "Pixel 7", "width": 385, "height": 176, "transform": [{"filter": "datum.pixel == 7"}],
 "encoding": {"x": {"field": "x0", "type": "quantitative", "title": "ADC Ratio", "scale": {"domain": [-0.05, 1.05], "nice": false, "zero": false}, "axis": {"values": [0, 0.2, 0.4, 0.6, 0.8, 1], "format": ".1f"}},
  "y": {"field": "count", "type": "quantitative", "title": "Counts", "scale": {"domain": [0, 6647], "nice": false, "zero": false}, "axis": {"values": [0, 2000, 4000, 6000], "format": "d"}}},
 "layer": [
  {"mark": {"type": "line", "interpolate": "step-after"}, "encoding": {}},
  {"mark": "rule", "encoding": {"x2": {"field": "x1"}}},
  {"transform": [{"filter": "datum.x0 == 0"}], "mark": "rule", "encoding": {"y2": {"datum": 0}}},
  {"transform": [{"filter": "datum.x1 == 1"}], "mark": "rule", "encoding": {"x": {"field": "x1", "type": "quantitative", "title": "ADC Ratio", "scale": {"domain": [-0.05, 1.05], "nice": false, "zero": false}}, "y2": {"datum": 0}}}
 ]}
]},
{"bounds": "flush", "spacing": 117.5, "hconcat": [
{"title": "Pixel 8", "width": 385, "height": 176, "transform": [{"filter": "datum.pixel == 8"}],
 "encoding": {"x": {"field": "x0", "type": "quantitative", "title": "ADC Ratio", "scale": {"domain": [-0.05, 1.05], "nice": false, "zero": false}, "axis": {"values": [0, 0.2, 0.4, 0.6, 0.8, 1], "format": ".1f"}},
  "y": {"field": "count", "type": "quantitative", "title": "Counts", "scale": {"domain": [0, 4993], "nice": false, "zero": false}, "axis": {"values": [0, 2000, 4000], "format": "d"}}},
 "layer": [
  {"mark": {"type": "line", "interpolate": "step-after"}, "encoding": {}},
  {"mark": "rule", "encoding": {"x2": {"field": "x1"}}},
  {"transform": [{"filter": "datum.x0 == 0"}], "mark": "rule", "encoding": {"y2": {"datum": 0}}},
  {"transform": [{"filter": "datum.x1 == 1"}], "mark": "rule", "encoding": {"x": {"field": "x1", "type": "quantitative", "title": "ADC Ratio", "scale": {"domain": [-0.05, 1.05], "nice": false, "zero": false}}, "y2": {"datum": 0}}}
 ]},
{"title": "Pixel 9", "width": 385, "height": 176, "transform": [{"filter": "datum.pixel == 9"}],
 "encoding": {"x": {"field": "x0", "type": "quantitative", "title": "ADC Ratio", "scale": {"domain": [-0.05, 1.05], "nice": false, "zero": false}, "axis": {"values": [0, 0.2, 0.4, 0.6, 0.8, 1], "format": ".1f"}},
  "y": {"field": "count", "type": "quantitative", "title": "Counts", "scale": {"domain": [0, 3421], "nice": false, "zero": false}, "axis": {"values": [0, 1000, 2000, 3000], "format": "d"}}},
 "layer": [
  {"mark": {"type": "line", "interpolate": "step-after"}, "encoding": {}},
  {"mark": "rule", "encoding": {"x2": {"field": "x1"}}},
  {"transform": [{"filter": "datum.x0 == 0"}], "mark": "rule", "encoding": {"y2": {"datum": 0}}},
  {"transform": [{"filter": "datum.x1 == 1"}], "mark": "rule", "encoding": {"x": {"field": "x1", "type": "quantitative", "title": "ADC Ratio", "scale": {"domain": [-0.05, 1.05], "nice": false, "zero": false}}, "y2": {"datum": 0}}}
 ]},
{"title": "Pixel 10", "width": 385, "height": 176, "transform": [{"filter": "datum.pixel == 10"}],
 "encoding": {"x": {"field": "x0", "type": "quantitative", "title": "ADC Ratio", "scale": {"domain": [-0.05, 1.05], "nice": false, "zero": false}, "axis": {"values": [0, 0.2, 0.4, 0.6, 0.8, 1], "format": ".1f"}},
  "y": {"field": "count", "type": "quantitative", "title": "Counts", "scale": {"domain": [0, 4704], "nice": false, "zero": false}, "axis": {"values": [0, 2000, 4000], "format": "d"}}},
 "layer": [
  {"mark": {"type": "line", "interpolate": "step-after"}, "encoding": {}},
  {"mark": "rule", "encoding": {"x2": {"field": "x1"}}},
  {"transform": [{"filter": "datum.x0 == 0"}], "mark": "rule", "encoding": {"y2": {"datum": 0}}},
  {"transform": [{"filter": "datum.x1 == 1"}], "mark": "rule", "encoding": {"x": {"field": "x1", "type": "quantitative", "title": "ADC Ratio", "scale": {"domain": [-0.05, 1.05], "nice": false, "zero": false}}, "y2": {"datum": 0}}}
 ]},
{"title": "Pixel 11", "width": 385, "height": 176, "transform": [{"filter": "datum.pixel == 11"}],
 "encoding": {"x": {"field": "x0", "type": "quantitative", "title": "ADC Ratio", "scale": {"domain": [-0.05, 1.05], "nice": false, "zero": false}, "axis": {"values": [0, 0.2, 0.4, 0.6, 0.8, 1], "format": ".1f"}},
  "y": {"field": "count", "type": "quantitative", "title": "Counts", "scale": {"domain": [0, 8243], "nice": false, "zero": false}, "axis": {"values": [0, 2500, 5000, 7500], "format": "d"}}},
 "layer": [
  {"mark": {"type": "line", "interpolate": "step-after"}, "encoding": {}},
  {"mark": "rule", "encoding": {"x2": {"field": "x1"}}},
  {"transform": [{"filter": "datum.x0 == 0"}], "mark": "rule", "encoding": {"y2": {"datum": 0}}},
  {"transform": [{"filter": "datum.x1 == 1"}], "mark": "rule", "encoding": {"x": {"field": "x1", "type": "quantitative", "title": "ADC Ratio", "scale": {"domain": [-0.05, 1.05], "nice": false, "zero": false}}, "y2": {"datum": 0}}}
 ]}
]},
{"bounds": "flush", "spacing": 117.5, "hconcat": [
{"title": "Pixel 12", "width": 385, "height": 176, "transform": [{"filter": "datum.pixel == 12"}],
 "encoding": {"x": {"field": "x0", "type": "quantitative", "title": "ADC Ratio", "scale": {"domain": [-0.05, 1.05], "nice": false, "zero": false}, "axis": {"values": [0, 0.2, 0.4, 0.6, 0.8, 1], "format": ".1f"}},
  "y": {"field": "count", "type": "quantitative", "title": "Counts", "scale": {"domain": [0, 7455], "nice": false, "zero": false}, "axis": {"values": [0, 2000, 4000, 6000], "format": "d"}}},
 "layer": [
  {"mark": {"type": "line", "interpolate": "step-after"}, "encoding": {}},
  {"mark": "rule", "encoding": {"x2": {"field": "x1"}}},
  {"transform": [{"filter": "datum.x0 == 0"}], "mark": "rule", "encoding": {"y2": {"datum": 0}}},
  {"transform": [{"filter": "datum.x1 == 1"}], "mark": "rule", "encoding": {"x": {"field": "x1", "type": "quantitative", "title": "ADC Ratio", "scale": {"domain": [-0.05, 1.05], "nice": false, "zero": false}}, "y2": {"datum": 0}}}
 ]},
{"title": "Pixel 13", "width": 385, "height": 176, "transform": [{"filter": "datum.pixel == 13"}],
 "encoding": {"x": {"field": "x0", "type": "quantitative", "title": "ADC Ratio", "scale": {"domain": [-0.05, 1.05], "nice": false, "zero": false}, "axis": {"values": [0, 0.2, 0.4, 0.6, 0.8, 1], "format": ".1f"}},
  "y": {"field": "count", "type": "quantitative", "title": "Counts", "scale": {"domain": [0, 6886], "nice": false, "zero": false}, "axis": {"values": [0, 2000, 4000, 6000], "format": "d"}}},
 "layer": [
  {"mark": {"type": "line", "interpolate": "step-after"}, "encoding": {}},
  {"mark": "rule", "encoding": {"x2": {"field": "x1"}}},
  {"transform": [{"filter": "datum.x0 == 0"}], "mark": "rule", "encoding": {"y2": {"datum": 0}}},
  {"transform": [{"filter": "datum.x1 == 1"}], "mark": "rule", "encoding": {"x": {"field": "x1", "type": "quantitative", "title": "ADC Ratio", "scale": {"domain": [-0.05, 1.05], "nice": false, "zero": false}}, "y2": {"datum": 0}}}
 ]},
{"title": "Pixel 14", "width": 385, "height": 176, "transform": [{"filter": "datum.pixel == 14"}],
 "encoding": {"x": {"field": "x0", "type": "quantitative", "title": "ADC Ratio", "scale": {"domain": [-0.05, 1.05], "nice": false, "zero": false}, "axis": {"values": [0, 0.2, 0.4, 0.6, 0.8, 1], "format": ".1f"}},
  "y": {"field": "count", "type": "quantitative", "title": "Counts", "scale": {"domain": [0, 7907], "nice": false, "zero": false}, "axis": {"values": [0, 2000, 4000, 6000], "format": "d"}}},
 "layer": [
  {"mark": {"type": "line", "interpolate": "step-after"}, "encoding": {}},
  {"mark": "rule", "encoding": {"x2": {"field": "x1"}}},
  {"transform": [{"filter": "datum.x0 == 0"}], "mark": "rule", "encoding": {"y2": {"datum": 0}}},
  {"transform": [{"filter": "datum.x1 == 1"}], "mark": "rule", "encoding": {"x": {"field": "x1", "type": "quantitative", "title": "ADC Ratio", "scale": {"domain": [-0.05, 1.05], "nice": false, "zero": false}}, "y2": {"datum": 0}}}
 ]},
{"title": "Pixel 15", "width": 385, "height": 176, "transform": [{"filter": "datum.pixel == 15"}],
 "encoding": {"x": {"field": "x0", "type": "quantitative", "title": "ADC Ratio", "scale": {"domain": [-0.05, 1.05], "nice": false, "zero": false}, "axis": {"values": [0, 0.2, 0.4, 0.6, 0.8, 1], "format": ".1f"}},
  "y": {"field": "count", "type": "quantitative", "title": "Counts", "scale": {"domain": [0, 25725], "nice": false, "zero": false}, "axis": {"values": [0, 10000, 20000], "format": "d"}}},
 "layer": [
  {"mark": {"type": "line", "interpolate": "step-after"}, "encoding": {}},
  {"mark": "rule", "encoding": {"x2": {"field": "x1"}}},
  {"transform": [{"filter": "datum.x0 == 0"}], "mark": "rule", "encoding": {"y2": {"datum": 0}}},
  {"transform": [{"filter": "datum.x1 == 1"}], "mark": "rule", "encoding": {"x": {"field": "x1", "type": "quantitative", "title": "ADC Ratio", "scale": {"domain": [-0.05, 1.05], "nice": false, "zero": false}}, "y2": {"datum": 0}}}
 ]}
]}
],
"config": {
 "font": "DejaVu Sans",
 "view": {"stroke": "black", "strokeWidth": 1.3},
 "line": {"color": "black", "strokeWidth": 2},
 "rule": {"color": "black", "strokeWidth": 2},
 "axis": {"grid": false, "labelFontSize": 18.5, "labelColor": "black", "titleFontSize": 19.5, "titleFontWeight": "normal", "titleColor": "black", "tickColor": "black", "tickSize": 6, "tickWidth": 1.3, "domainColor": "black", "domainWidth": 1.3, "labelPadding": 8},
 "axisX": {"labelPadding": 7, "titlePadding": 0},
 "axisY": {"titlePadding": 8.5},
 "title": {"fontSize": 23, "fontWeight": "normal", "color": "black", "offset": 6}
}
}
